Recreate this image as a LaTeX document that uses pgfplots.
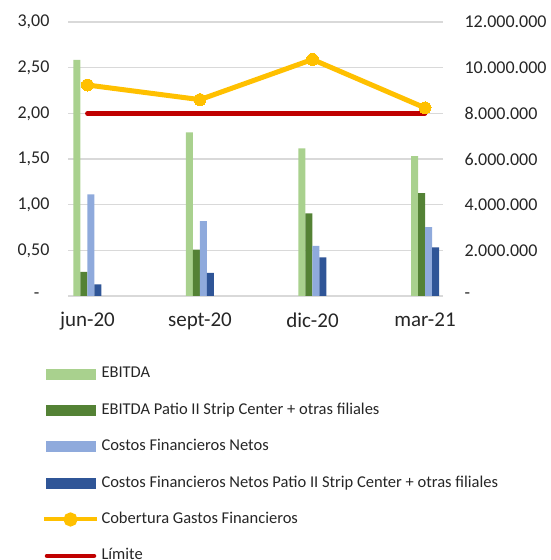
\documentclass[border=0pt]{standalone}
\usepackage{fontspec}
\setmainfont{Carlito}
\usepackage{pgfplots}
\pgfplotsset{compat=1.18}
\definecolor{ebitda}{HTML}{A9D18E}
\definecolor{ebitdap}{HTML}{548235}
\definecolor{costos}{HTML}{8FAADC}
\definecolor{costosp}{HTML}{2F5597}
\definecolor{cob}{HTML}{FFC000}
\definecolor{lim}{HTML}{C00000}
\definecolor{gridc}{HTML}{D9D9D9}
\definecolor{txt}{HTML}{262626}
\begin{document}
\begin{tikzpicture}
\pgfplotsset{
  common/.style={
    scale only axis, width=375pt, height=274pt,
    at={(68pt,264pt)}, anchor=south west,
    xmin=-0.173, xmax=3.16,
    axis line style={draw=none},
    major tick length=0pt,
    tick style={draw=none},
    ticklabel style={text=txt},
    scaled y ticks=false,
    /pgf/number format/assume math mode=true,
  }
}
\begin{axis}[common,
  ymin=0, ymax=12000000,
  ytick={0,2000000,4000000,6000000,8000000,10000000,12000000},
  yticklabels={-,2.000.000,4.000.000,6.000.000,8.000.000,10.000.000,12.000.000},
  yticklabel pos=right,
  yticklabel style={font=\fontsize{18}{18}\selectfont, xshift=18pt, anchor=west},
  ymajorgrids, grid style={gridc, line width=1.5pt},
  xtick={0,1,2,3},
  xticklabels={jun-20,sept-20,dic-20,mar-21},
  xticklabel style={font=\fontsize{21}{21}\selectfont, yshift=-13pt},
  ybar=0pt, bar width=7pt,
]
\addplot[fill=ebitda, draw=none] coordinates {(0,10340000) (1,7170000) (2,6470000) (3,6130000)};
\addplot[fill=ebitdap, draw=none] coordinates {(0,1060000) (1,2030000) (2,3620000) (3,4500000)};
\addplot[fill=costos, draw=none] coordinates {(0,4450000) (1,3280000) (2,2200000) (3,3020000)};
\addplot[fill=costosp, draw=none] coordinates {(0,510000) (1,1010000) (2,1690000) (3,2130000)};
\end{axis}
\begin{axis}[common,
  ymin=0, ymax=3,
  ytick={0,0.5,1,1.5,2,2.5,3},
  yticklabels={-\hspace*{10pt},{0,50},{1,00},{1,50},{2,00},{2,50},{3,00}},
  yticklabel style={font=\fontsize{18}{18}\selectfont, xshift=-15pt, anchor=east},
  xtick=\empty,
  legend cell align=left,
  legend style={at={(axis description cs:-0.0693,-0.255)}, anchor=north west,
    draw=none, fill=none, inner sep=0pt, outer sep=0pt, row sep=20.4pt, column sep=0pt,
    nodes={inner sep=0pt, font=\fontsize{16.5}{16.5}\selectfont, text=txt, text height=12pt, text depth=4pt}},
]
\addlegendimage{legend image code/.code={\fill[ebitda] (0pt,-5pt) rectangle (49pt,5pt); \path (53pt,0pt);}}
\addlegendentry{EBITDA}
\addlegendimage{legend image code/.code={\fill[ebitdap] (0pt,-5pt) rectangle (49pt,5pt); \path (53pt,0pt);}}
\addlegendentry{EBITDA Patio II Strip Center + otras filiales}
\addlegendimage{legend image code/.code={\fill[costos] (0pt,-5pt) rectangle (49pt,5pt); \path (53pt,0pt);}}
\addlegendentry{Costos Financieros Netos}
\addlegendimage{legend image code/.code={\fill[costosp] (0pt,-5pt) rectangle (49pt,5pt); \path (53pt,0pt);}}
\addlegendentry{Costos Financieros Netos Patio II Strip Center + otras filiales}
\addplot[cob, line width=5pt, mark=*, mark size=6pt, mark options={solid, fill=cob, draw=cob, line width=0pt},
  legend image code/.code={\draw[cob, line width=4pt] (-2pt,0pt) -- (51pt,0pt); \fill[cob] (24.5pt,0pt) circle (4.5pt); \path (53pt,0pt);}]
  coordinates {(0,2.31) (1,2.15) (2,2.59) (3,2.06)};
\addlegendentry{Cobertura Gastos Financieros}
\addplot[lim, line width=4.7pt, line cap=round,
  legend image code/.code={\draw[lim, line width=4.5pt, line cap=round] (1pt,0pt) -- (48pt,0pt); \path (53pt,0pt);}]
  coordinates {(0,2) (3,2)};
\addlegendentry{Límite}
\end{axis}
\pgfresetboundingbox
\path[use as bounding box] (0,0) rectangle (551pt,560pt);
\end{tikzpicture}
\end{document}
